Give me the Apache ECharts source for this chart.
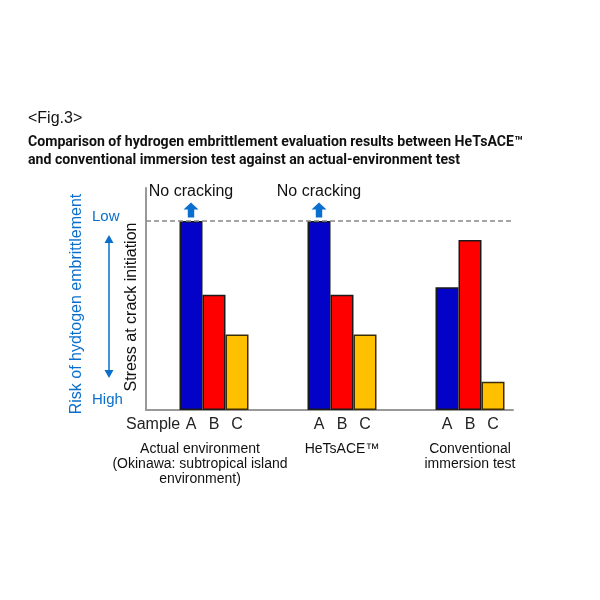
<!DOCTYPE html>
<html>
<head>
<meta charset="utf-8">
<script src="https://cdn.jsdelivr.net/npm/echarts@6/dist/echarts.min.js"></script>
<style>
  html, body { margin: 0; padding: 0; background: #fff; }
  #chart { width: 600px; height: 600px; }
</style>
</head>
<body>
<div id="chart"></div>
<script>
// 試験条件（グループ）
const groups = [
  'Actual environment\n(Okinawa: subtropical island\nenvironment)',
  'HeTsACE™',
  'Conventional\nimmersion test'
]
// サンプル名
const samples = ['A', 'B', 'C']
// 割れ発生応力（破線 = 100 として正規化）
const stressA = [100, 100, 65]
const stressB = [61, 61, 90]
const stressC = [40, 40, 15]
// 割れなし（矢印付き）
const noCracking = [true, true, false]
const noCrackLabel = 'No cracking'
const limitValue = 100
const yMax = 117.5

const font = 'Liberation Sans, Arial, sans-serif'
const blue = '#0a6fcc'

let chart = echarts.init(document.getElementById('chart'))

const arrowPath = 'path://M7,0 L14,7 L10,7 L10,15 L4,15 L4,7 L0,7 Z'

let makeBar = (name, values, color, extra) => Object.assign({
  name: name,
  type: 'bar',
  xAxisIndex: 1,
  yAxisIndex: 1,
  barWidth: 23,
  barGap: '0%',
  data: values,
  itemStyle: {
    color: color,
    borderColor: '#1a1a1a',
    borderWidth: 1.5
  },
  label: {
    show: true,
    position: 'bottom',
    distance: 7,
    formatter: name,
    fontFamily: font,
    fontSize: 16,
    color: '#222'
  }
}, extra || {})

let option = {
  animation: false,
  backgroundColor: '#fff',
  title: [
    {
      text: '<Fig.3>',
      left: 28,
      top: 111,
      padding: 0,
      textStyle: { fontFamily: font, fontSize: 16, fontWeight: 'normal', color: '#111' }
    },
    {
      text: 'Comparison of hydrogen embrittlement evaluation results between HeTsACE™\nand conventional immersion test against an actual-environment test',
      left: 28,
      top: 133,
      padding: 0,
      textStyle: { fontFamily: 'Roboto, ' + font, fontSize: 14.1, fontWeight: 'bold', color: '#111', lineHeight: 18 }
    }
  ],
  grid: [
    // 枠（軸線・破線）
    { left: 146, right: 87, top: 188, bottom: 190 },
    // 棒グラフ
    { left: 150, right: 66, top: 188, bottom: 190 }
  ],
  xAxis: [
    {
      gridIndex: 0,
      type: 'value',
      min: 0,
      max: 1,
      axisLine: { show: true, onZero: false, lineStyle: { color: '#999', width: 2 } },
      axisTick: { show: false },
      axisLabel: { show: false },
      splitLine: { show: false }
    },
    {
      gridIndex: 1,
      type: 'category',
      data: [
        { value: groups[0], textStyle: { padding: [0, 28, 0, 0] } },
        groups[1],
        groups[2]
      ],
      axisLine: { show: false },
      axisTick: { show: false },
      axisLabel: {
        margin: 32,
        fontFamily: font,
        fontSize: 14,
        lineHeight: 15,
        color: '#111',
        interval: 0
      }
    }
  ],
  yAxis: [
    {
      gridIndex: 0,
      type: 'value',
      min: 0,
      max: yMax,
      axisLine: { show: true, lineStyle: { color: '#999', width: 2 } },
      axisTick: { show: false },
      axisLabel: { show: false },
      splitLine: { show: false }
    },
    {
      gridIndex: 1,
      type: 'value',
      min: 0,
      max: yMax,
      show: false,
      splitLine: { show: false }
    }
  ],
  series: [
    {
      // 破線（割れなし限界）
      name: 'limit',
      type: 'line',
      xAxisIndex: 0,
      yAxisIndex: 0,
      data: [],
      silent: true,
      markLine: {
        silent: true,
        symbol: 'none',
        label: { show: false },
        lineStyle: { color: '#888', type: [5, 3], width: 1.5 },
        data: [{ yAxis: limitValue }]
      }
    },
    makeBar(samples[0], stressA, '#0303c8', {
      markPoint: {
        symbol: arrowPath,
        symbolSize: [15, 15],
        symbolOffset: [0, -11],
        itemStyle: { color: blue },
        label: {
          show: true,
          position: 'top',
          distance: 3,
          formatter: noCrackLabel,
          fontFamily: font,
          fontSize: 16,
          color: '#111'
        },
        data: groups
          .map((g, i) => (noCracking[i] ? { coord: [i, stressA[i]] } : null))
          .filter((d) => d)
      }
    }),
    makeBar(samples[1], stressB, '#ff0000'),
    makeBar(samples[2], stressC, '#ffc000', {
      itemStyle: { color: '#ffc000', borderColor: '#3a2e0a', borderWidth: 1.5 }
    })
  ],
  graphic: [
    {
      type: 'text',
      left: 126,
      top: 417,
      style: { text: 'Sample', font: '16px ' + font, fill: '#222' }
    },
    {
      type: 'text',
      x: 132,
      y: 307,
      rotation: Math.PI / 2,
      style: {
        text: 'Stress at crack initiation',
        font: '16px ' + font,
        fill: '#111',
        align: 'center',
        verticalAlign: 'middle'
      }
    },
    {
      type: 'text',
      x: 77,
      y: 304,
      rotation: Math.PI / 2,
      style: {
        text: 'Risk of hydtogen embrittlement',
        font: '16px ' + font,
        fill: blue,
        align: 'center',
        verticalAlign: 'middle'
      }
    },
    {
      type: 'text',
      left: 92,
      top: 209,
      style: { text: 'Low', font: '15px ' + font, fill: blue }
    },
    {
      type: 'text',
      left: 92,
      top: 392,
      style: { text: 'High', font: '15px ' + font, fill: blue }
    },
    {
      type: 'line',
      shape: { x1: 109, y1: 240, x2: 109, y2: 373 },
      style: { stroke: blue, lineWidth: 1.5 }
    },
    {
      type: 'polygon',
      shape: { points: [[109, 235], [104.5, 243], [113.5, 243]] },
      style: { fill: blue }
    },
    {
      type: 'polygon',
      shape: { points: [[109, 378], [104.5, 370], [113.5, 370]] },
      style: { fill: blue }
    }
  ]
}

chart.setOption(option)
</script>
</body>
</html>
